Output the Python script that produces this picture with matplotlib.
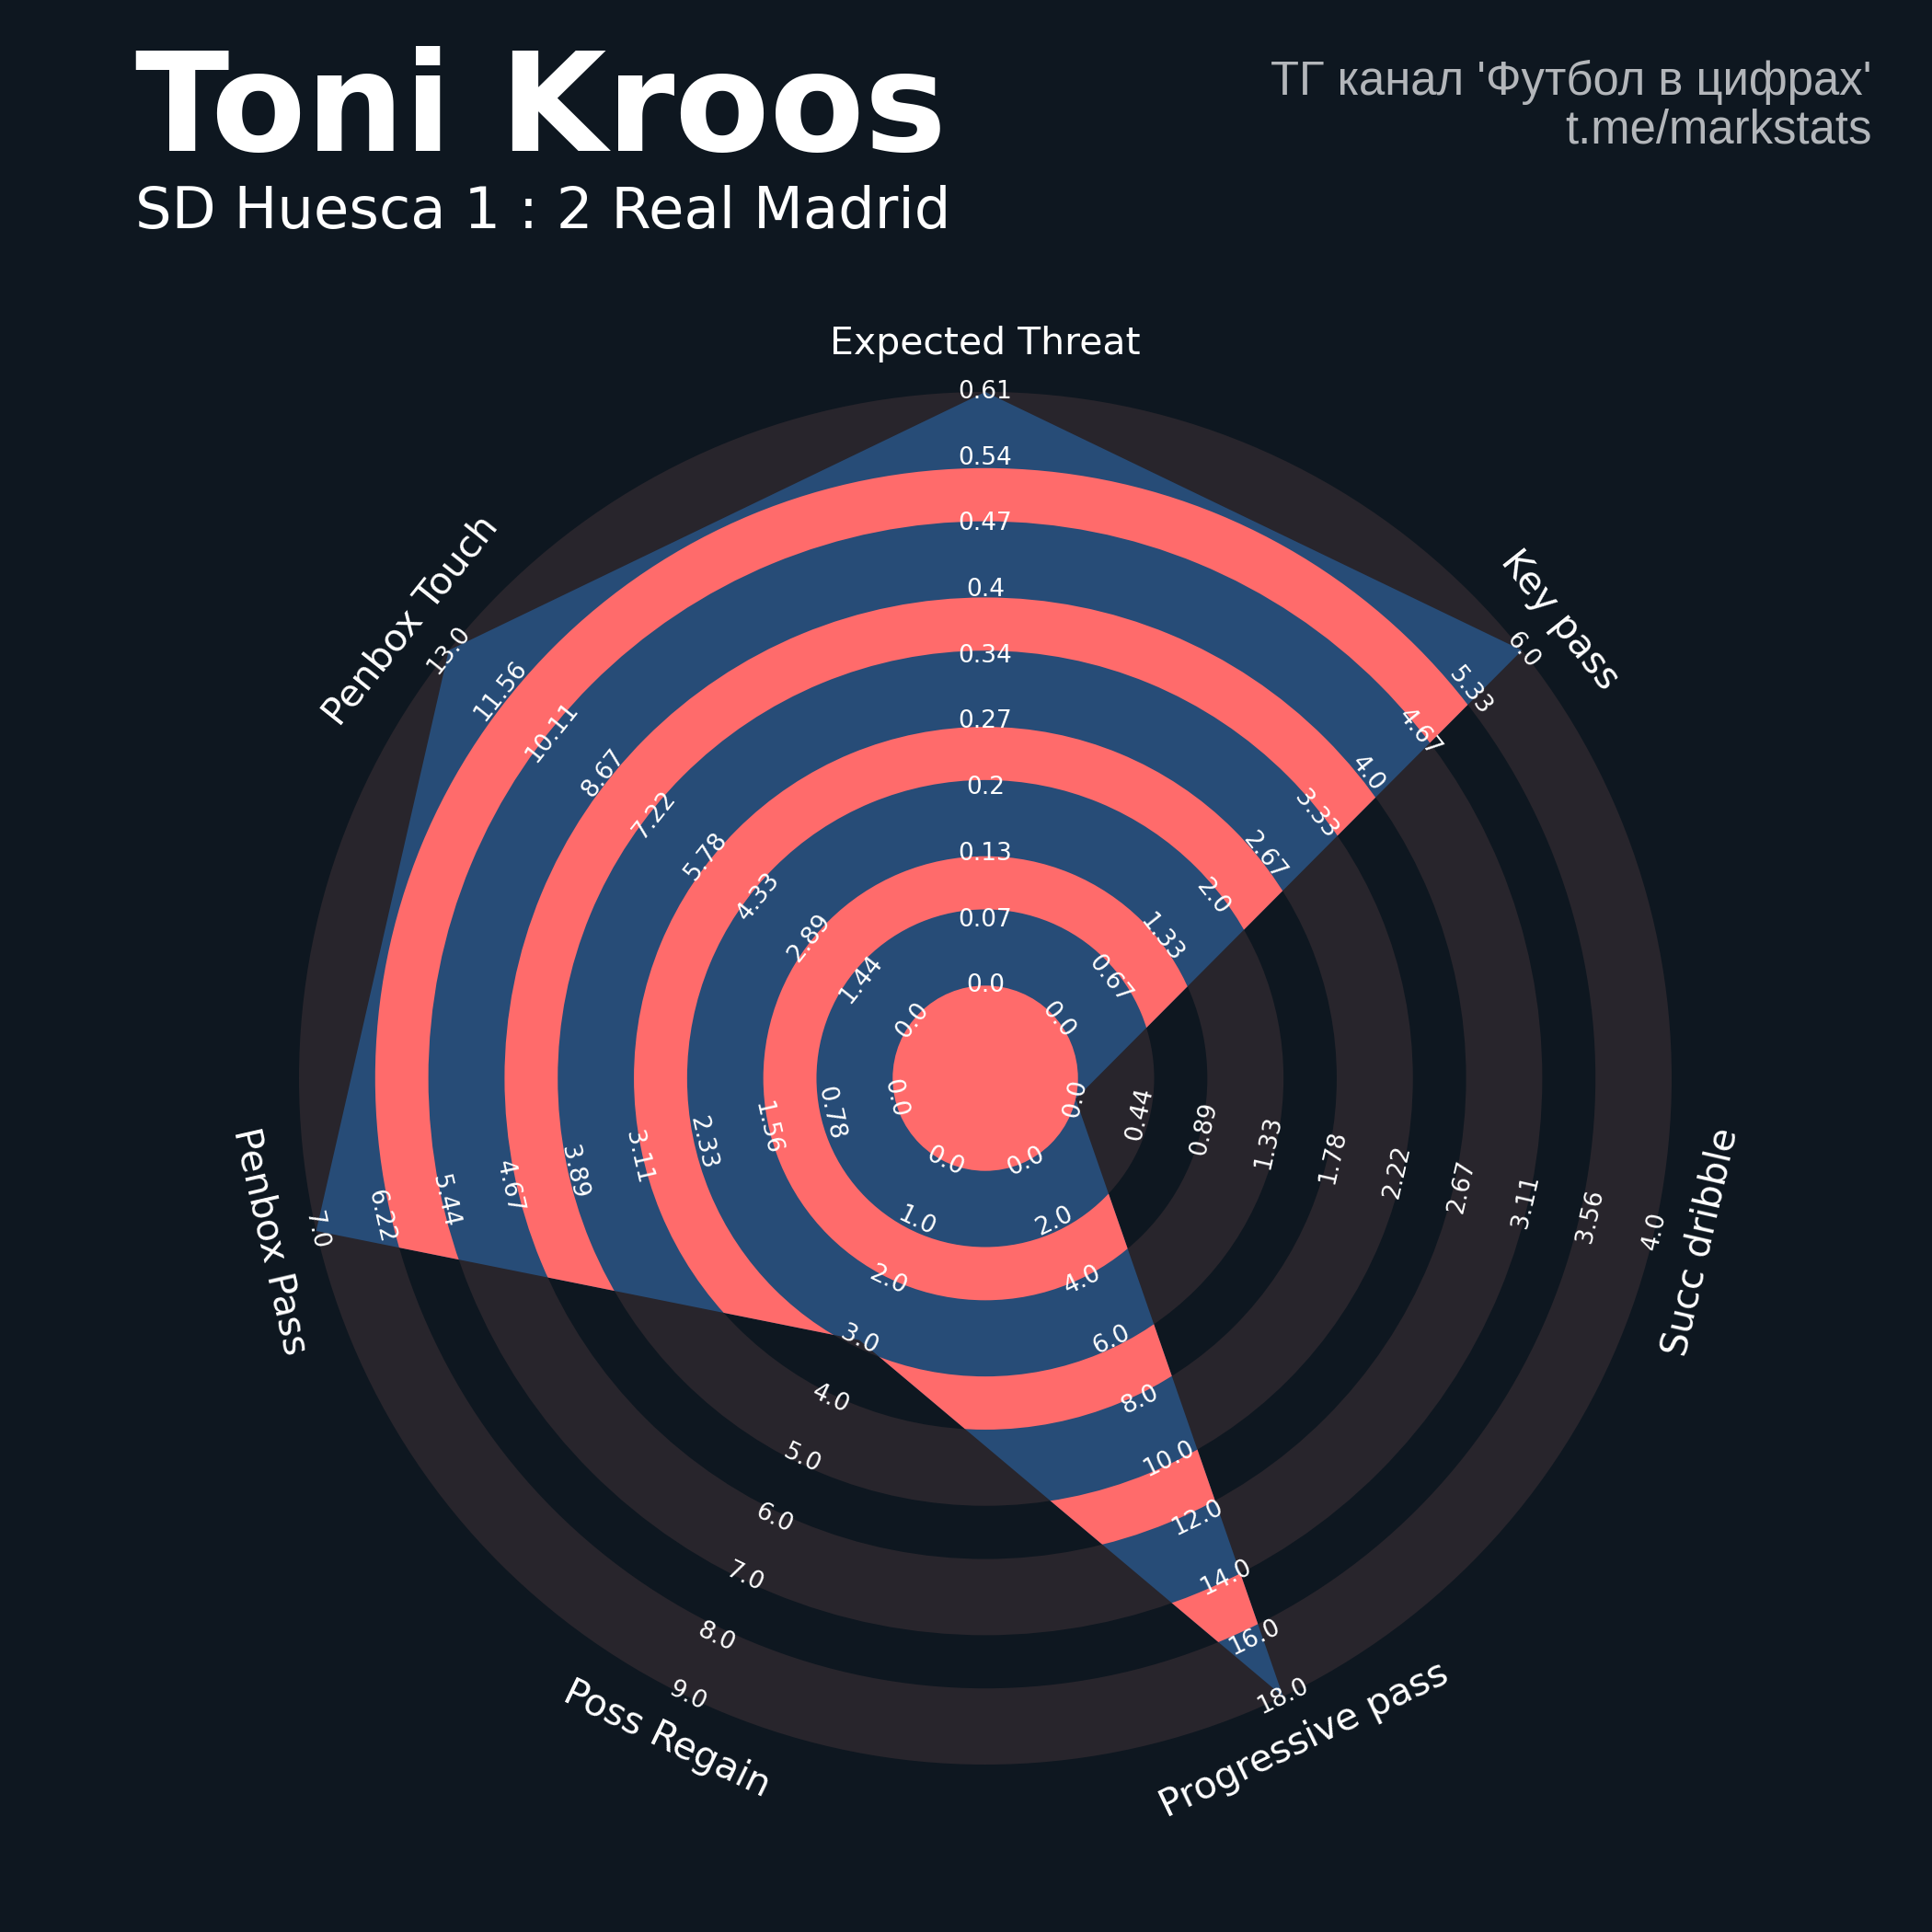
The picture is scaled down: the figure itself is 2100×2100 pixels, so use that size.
import numpy as np
import matplotlib
matplotlib.use('Agg')
import matplotlib.pyplot as plt
from matplotlib.patches import Polygon, Circle, Wedge

# ---------------- data ----------------
params = ['Expected Threat', 'Key pass', 'Succ dribble', 'Progressive pass',
          'Poss Regain', 'Penbox Pass', 'Penbox Touch']
low = [0, 0, 0, 0, 0, 0, 0]
high = [0.6056, 6, 4, 18, 9, 7, 13]
values = [0.6056, 6, 0, 18, 3, 7, 13]
title = 'Toni Kroos'
subtitle = 'SD Huesca 1 : 2 Real Madrid'
credit1 = "ТГ канал 'Футбол в цифрах'"
credit2 = 't.me/markstats'
num_labels = 10

# ---------------- style ----------------
BG = '#0E1720'
RING = '#28252C'
POLY = '#274C77'
PINK = '#FF6B6B'
WHITE = '#FFFFFF'
GREY_TXT = '#B3B6BA'

fig = plt.figure(figsize=(21, 21), dpi=100, facecolor=BG)
ax = fig.add_axes([0, 0, 1, 1])
ax.set_facecolor(BG)
S = 746.0            # pixels per radar unit
cx, cy = 1071, 1172  # radar centre in pixels (from top-left)
ax.set_xlim(-cx / S, (2100 - cx) / S)
ax.set_ylim(-(2100 - cy) / S, cy / S)
ax.axis('off')

c = 0.135                 # centre circle radius
P = 0.1885                # ring period
G = 1 - c - 4 * P         # width of the grey rings

n = len(params)
theta = np.arange(n) * 2 * np.pi / n   # clockwise from top

# background grey rings
for k in range(5):
    r_out = c + k * P + G
    ax.add_patch(Wedge((0, 0), r_out, 0, 360, width=G, facecolor=RING,
                       edgecolor='none', zorder=1))

# radar polygon
low_a = np.array(low, float)
high_a = np.array(high, float)
val_a = np.array(values, float)
frac = (val_a - low_a) / (high_a - low_a)
rad = c + frac * (1 - c)
verts = np.column_stack([rad * np.sin(theta), rad * np.cos(theta)])
poly = Polygon(verts, closed=True, facecolor=POLY, edgecolor='none', zorder=2)
ax.add_patch(poly)

# pink rings inside polygon
for k in range(4):
    r_in = c + G + k * P
    r_out = c + (k + 1) * P
    w = Wedge((0, 0), r_out, 0, 360, width=r_out - r_in, facecolor=PINK,
              edgecolor='none', zorder=3)
    ax.add_patch(w)
    w.set_clip_path(poly)
ax.add_patch(Circle((0, 0), c, facecolor=PINK, edgecolor='none', zorder=3))


def rot_for(t):
    r = -np.degrees(t)
    r = (r + 180) % 360 - 180
    if r > 90:
        r -= 180
    elif r < -90:
        r += 180
    return r


# range labels
label_r = np.linspace(c, 1, num_labels)
for j in range(n):
    vals = np.linspace(low[j], high[j], num_labels)
    rot = rot_for(theta[j])
    for i in range(num_labels):
        x = label_r[i] * np.sin(theta[j])
        y = label_r[i] * np.cos(theta[j])
        ax.text(x, y, str(round(float(vals[i]), 2)), color=WHITE, fontsize=19,
                ha='center', va='center', rotation=rot, rotation_mode='anchor',
                zorder=5)

# parameter labels
for j in range(n):
    x = 1.07 * np.sin(theta[j])
    y = 1.07 * np.cos(theta[j])
    ax.text(x, y, params[j], color=WHITE, fontsize=29.5, ha='center', va='center',
            rotation=rot_for(theta[j]), rotation_mode='anchor', zorder=5)

# titles
fig.text(0.070, 0.922, title, fontsize=108, fontweight='bold', color=WHITE,
         ha='left', va='baseline')
fig.text(0.070, 0.882, subtitle, fontsize=44.9, color=WHITE,
         ha='left', va='baseline')
fig.text(0.969, 0.951, credit1, fontsize=36.6, color=GREY_TXT, ha='right',
         va='baseline', family=['Liberation Sans', 'DejaVu Sans'])
fig.text(0.969, 0.926, credit2, fontsize=36.6, color=GREY_TXT, ha='right',
         va='baseline', family=['Liberation Sans', 'DejaVu Sans'])

fig.savefig('out.png', dpi=100, facecolor=BG)
